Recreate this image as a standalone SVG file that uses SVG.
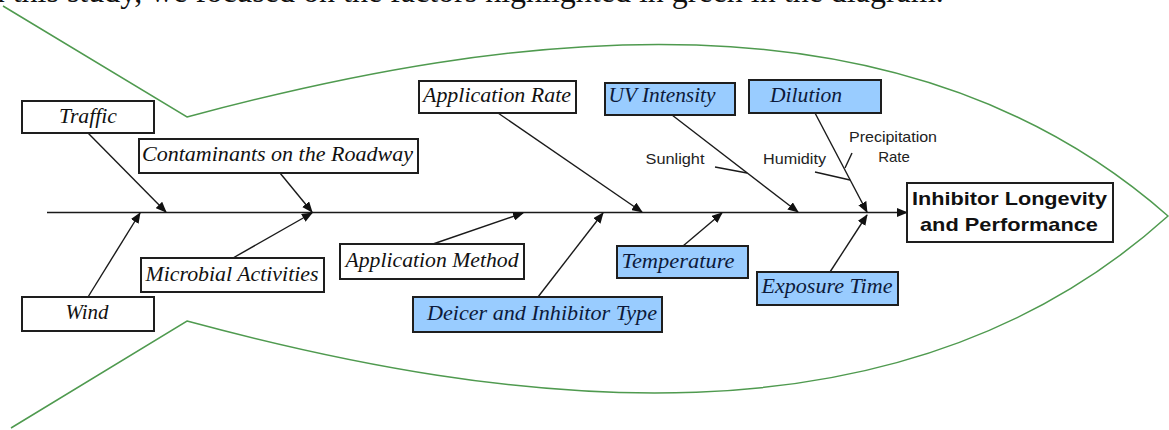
<svg xmlns="http://www.w3.org/2000/svg" width="1169" height="430" viewBox="0 0 1169 430">
<style>
.box{fill:#ffffff;stroke:#1e1e1e;stroke-width:2}
.blue{fill:#99ccff;stroke:#1e1e1e;stroke-width:2}
.lbl{font-family:"Liberation Serif",serif;font-style:italic;font-size:20px;fill:#111;text-anchor:middle}
.lblb{font-family:"Liberation Serif",serif;font-style:italic;font-size:20px;fill:#0d1a3a;text-anchor:middle}
.sm{font-family:"Liberation Sans",Arial,sans-serif;font-size:15px;fill:#222;text-anchor:middle}
.main{font-family:"Liberation Sans",Arial,sans-serif;font-size:19px;font-weight:bold;fill:#111;text-anchor:middle}
.con{stroke:#1a1a1a;stroke-width:1.4;fill:none}
.arr{marker-end:url(#ah)}
.fish{fill:none;stroke:#4f9a4f;stroke-width:1.5}
</style>
<defs>
<marker id="ah" markerUnits="userSpaceOnUse" markerWidth="11" markerHeight="9" refX="10" refY="4.5" orient="auto">
<path d="M0,0 L11,4.5 L0,9 z" fill="#111"/>
</marker>
</defs>
<rect width="1169" height="430" fill="#ffffff"/>
<text x="-22" y="2" font-family="Liberation Serif, serif" font-size="32" fill="#111">In this study, we focused on the factors highlighted in green in the diagram.</text>
<path class="fish" d="M3,6 L187,117 C507,31 898,-22 1168,216 C898,460 507,407 187,321 L11,428"/>
<g id="connectors">
<line class="con arr" x1="47" y1="212.5" x2="907" y2="212.5"/>
<line class="con arr" x1="88" y1="133" x2="166" y2="212"/>
<line class="con arr" x1="88" y1="297" x2="140" y2="213"/>
<line class="con arr" x1="280" y1="173" x2="312" y2="212"/>
<line class="con arr" x1="233" y1="258" x2="312" y2="213"/>
<line class="con arr" x1="433" y1="244" x2="523" y2="213"/>
<line class="con arr" x1="498" y1="113" x2="642" y2="212"/>
<line class="con arr" x1="538" y1="297" x2="603" y2="213"/>
<line class="con arr" x1="683" y1="246" x2="722" y2="213"/>
<line class="con arr" x1="672" y1="115" x2="798" y2="212"/>
<line class="con arr" x1="815" y1="113" x2="867" y2="212"/>
<line class="con arr" x1="830" y1="272" x2="867" y2="215"/>
<line class="con" x1="715" y1="167" x2="747" y2="173"/>
<line class="con" x1="815" y1="172" x2="850" y2="180"/>
<line class="con" x1="852" y1="153" x2="845" y2="168"/>
</g>
<g id="traffic"><rect class="box" x="22" y="101" width="132" height="32"/><text class="lbl" x="88" y="123" textLength="58" lengthAdjust="spacingAndGlyphs">Traffic</text></g>
<g id="contaminants"><rect class="box" x="139" y="139" width="279" height="34"/><text class="lbl" x="277.5" y="161" textLength="271" lengthAdjust="spacingAndGlyphs">Contaminants on the Roadway</text></g>
<g id="wind"><rect class="box" x="22" y="297" width="132" height="34"/><text class="lbl" x="87" y="319" textLength="43" lengthAdjust="spacingAndGlyphs">Wind</text></g>
<g id="microbial"><rect class="box" x="141" y="258" width="183" height="34"/><text class="lbl" x="232" y="281" textLength="173" lengthAdjust="spacingAndGlyphs">Microbial Activities</text></g>
<g id="app-method"><rect class="box" x="340" y="244" width="184" height="35"/><text class="lbl" x="432" y="267" textLength="173" lengthAdjust="spacingAndGlyphs">Application Method</text></g>
<g id="deicer"><rect class="blue" x="413" y="297" width="249" height="35"/><text class="lblb" x="542" y="320" textLength="230" lengthAdjust="spacingAndGlyphs">Deicer and Inhibitor Type</text></g>
<g id="temperature"><rect class="blue" x="617" y="246" width="131" height="32"/><text class="lblb" x="678" y="268" textLength="113" lengthAdjust="spacingAndGlyphs">Temperature</text></g>
<g id="exposure"><rect class="blue" x="757" y="272" width="141" height="33"/><text class="lblb" x="827" y="293" textLength="131" lengthAdjust="spacingAndGlyphs">Exposure Time</text></g>
<g id="app-rate"><rect class="box" x="419" y="81" width="157" height="32"/><text class="lbl" x="497" y="102" textLength="148" lengthAdjust="spacingAndGlyphs">Application Rate</text></g>
<g id="uv"><rect class="blue" x="605" y="83" width="130" height="32"/><text class="lblb" x="662" y="102" textLength="107" lengthAdjust="spacingAndGlyphs">UV Intensity</text></g>
<g id="dilution"><rect class="blue" x="749" y="80" width="132" height="33"/><text class="lblb" x="806" y="102" textLength="72" lengthAdjust="spacingAndGlyphs">Dilution</text></g>
<g id="sunlight"><text class="sm" x="675" y="164" textLength="59" lengthAdjust="spacingAndGlyphs">Sunlight</text></g>
<g id="humidity"><text class="sm" x="794.5" y="164" textLength="63" lengthAdjust="spacingAndGlyphs">Humidity</text></g>
<g id="precipitation"><text class="sm" x="893" y="142" textLength="88" lengthAdjust="spacingAndGlyphs">Precipitation</text><text class="sm" x="894" y="162">Rate</text></g>
<g id="outcome"><rect class="box" x="907" y="183" width="206" height="59"/><text class="main" x="1009.5" y="205" textLength="195" lengthAdjust="spacingAndGlyphs">Inhibitor Longevity</text><text class="main" x="1009" y="231" textLength="178" lengthAdjust="spacingAndGlyphs">and Performance</text></g>
</svg>
